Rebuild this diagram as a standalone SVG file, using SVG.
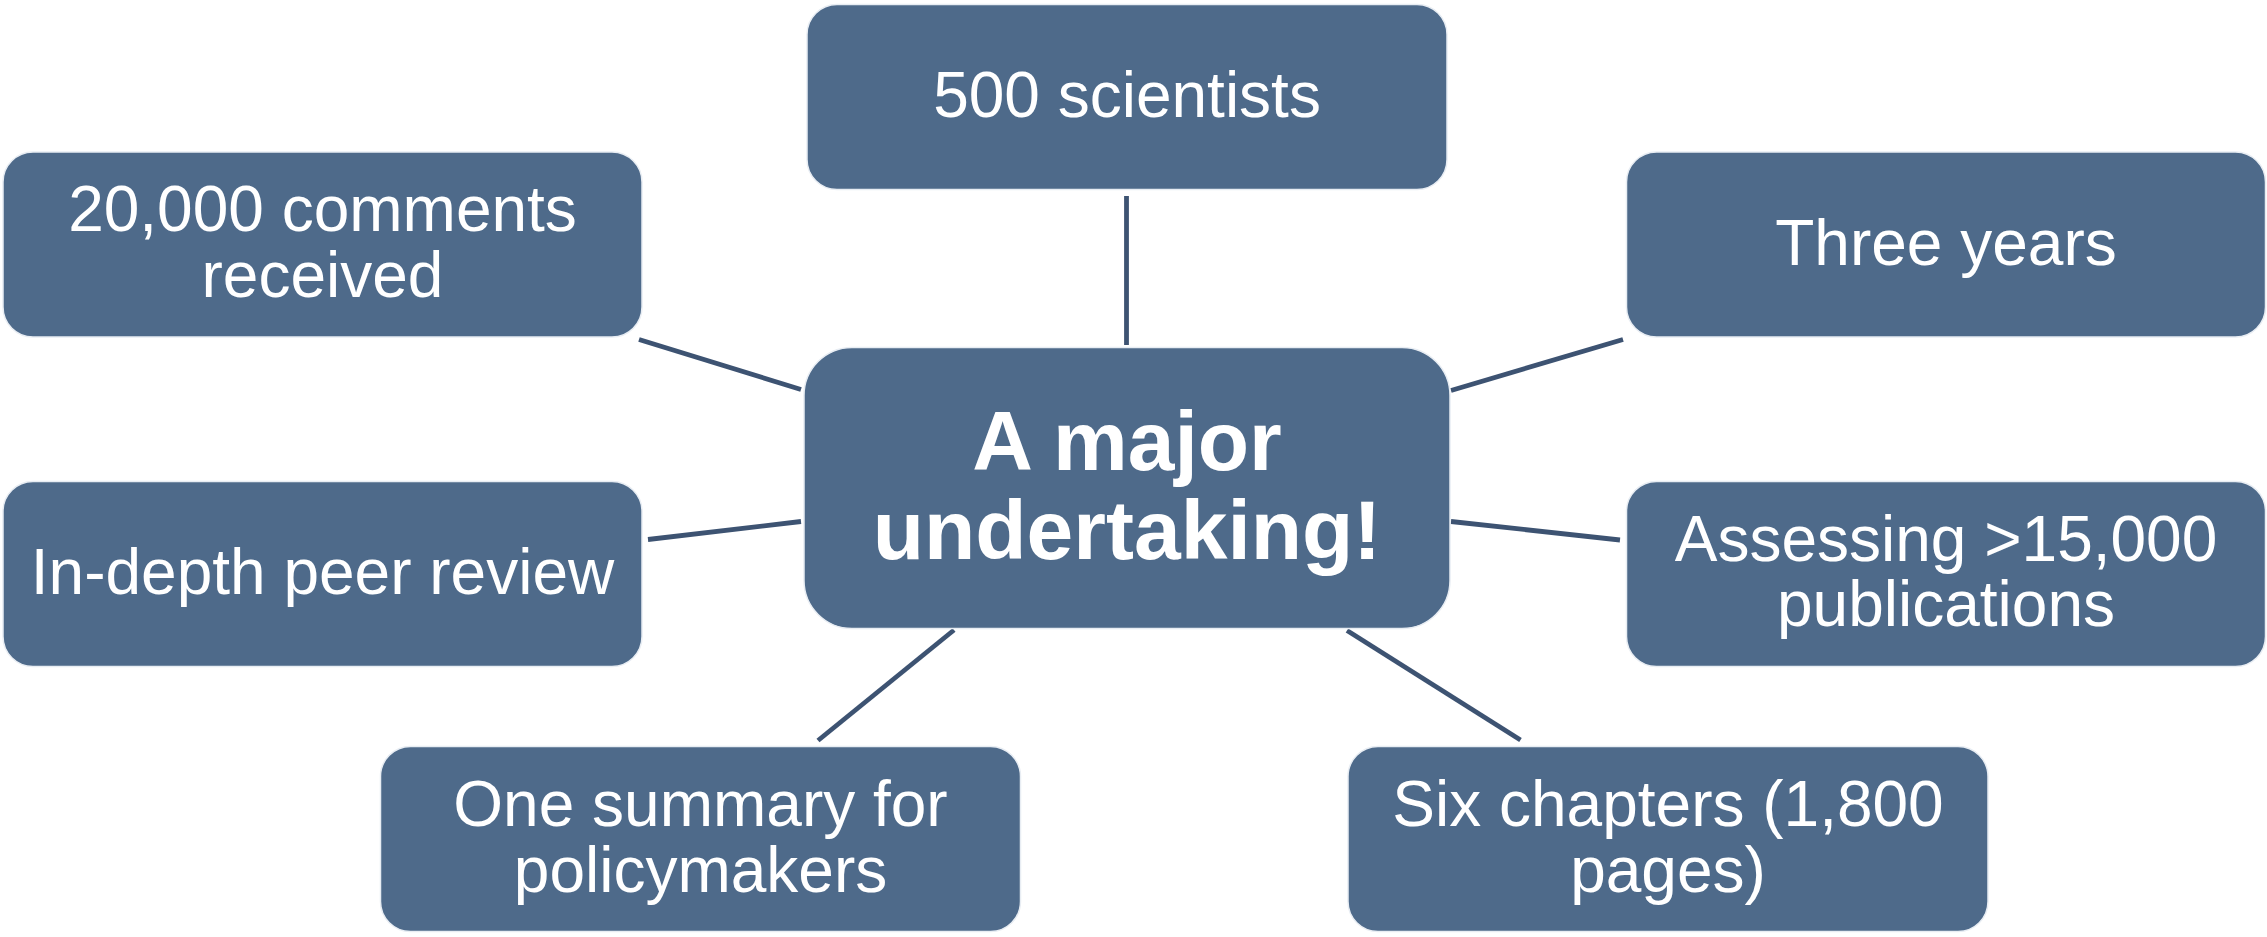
<svg xmlns="http://www.w3.org/2000/svg" width="2267" height="937" viewBox="0 0 2267 937">
<style>
.box{fill:#4E6A8A;stroke:#E8EDF3;stroke-width:1.5}
.t{font-family:"Liberation Sans",Arial,sans-serif;font-size:64px;fill:#FFFFFF;text-anchor:middle}
.b{font-family:"Liberation Sans",Arial,sans-serif;font-size:84px;font-weight:bold;fill:#FFFFFF;text-anchor:middle}
.c{stroke:#3D5372;stroke-width:4.8;fill:none}
</style>
<rect width="2267" height="937" fill="#FFFFFF"/>
<g id="connectors">
<line class="c" x1="1126.5" y1="196" x2="1126.5" y2="345"/>
<line class="c" x1="639" y1="339.5" x2="801" y2="389.5"/>
<line class="c" x1="648" y1="539.5" x2="801" y2="521.5"/>
<line class="c" x1="1451" y1="390.5" x2="1623" y2="339.5"/>
<line class="c" x1="1451" y1="521.5" x2="1620" y2="540"/>
<line class="c" x1="954" y1="630" x2="818" y2="740.5"/>
<line class="c" x1="1347" y1="630.5" x2="1520.5" y2="740"/>
</g>
<g id="center">
<rect class="box" x="804" y="347.5" width="646" height="281" rx="48"/>
<text class="b" x="1127" y="470">A major</text>
<text class="b" x="1127" y="559">undertaking!</text>
</g>
<g id="n-scientists">
<rect class="box" x="807" y="4.5" width="640" height="185" rx="30"/>
<text class="t" x="1127" y="117">500 scientists</text>
</g>
<g id="n-comments">
<rect class="box" x="3" y="152" width="639" height="185" rx="30"/>
<text class="t" x="322.5" y="231">20,000 comments</text>
<text class="t" x="322.5" y="297">received</text>
</g>
<g id="n-years">
<rect class="box" x="1626.5" y="152" width="639" height="185" rx="30"/>
<text class="t" x="1946" y="265">Three years</text>
</g>
<g id="n-review">
<rect class="box" x="3" y="481.5" width="639" height="185" rx="30"/>
<text class="t" x="322.5" y="594">In-depth peer review</text>
</g>
<g id="n-publications">
<rect class="box" x="1626.5" y="481.5" width="639" height="185" rx="30"/>
<text class="t" x="1946" y="561">Assessing &gt;15,000</text>
<text class="t" x="1946" y="626">publications</text>
</g>
<g id="n-summary">
<rect class="box" x="380.5" y="746.5" width="640" height="185" rx="30"/>
<text class="t" x="700.5" y="826">One summary for</text>
<text class="t" x="700.5" y="892">policymakers</text>
</g>
<g id="n-chapters">
<rect class="box" x="1348" y="746.5" width="640" height="185" rx="30"/>
<text class="t" x="1668" y="826">Six chapters (1,800</text>
<text class="t" x="1668" y="892">pages)</text>
</g>
</svg>
